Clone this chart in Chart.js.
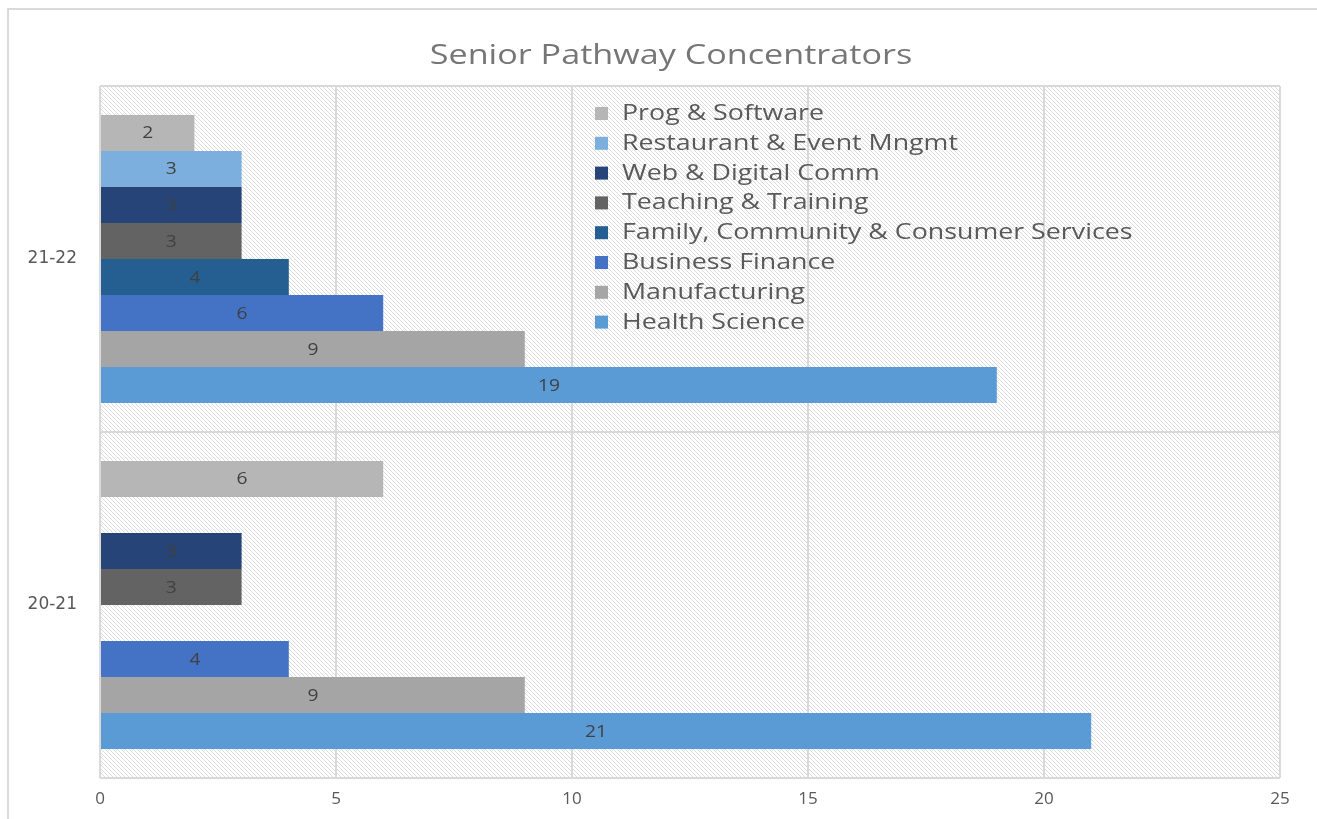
<!DOCTYPE html>
<html>
<head>
<meta charset="utf-8">
<script src="https://cdn.jsdelivr.net/npm/chart.js@4/dist/chart.umd.min.js"></script>
<style>
  html, body { margin:0; padding:0; background:#fff; }
  #wrap { position:relative; width:1317px; height:819px; }
  #frame { position:absolute; left:7px; top:8px; right:0; bottom:0; border-top:2px solid #d9d9d9; border-left:2px solid #d9d9d9; pointer-events:none; }
</style>
</head>
<body>
<div id="wrap">
  <canvas id="chart" width="1317" height="819"></canvas>
  <div id="frame"></div>
</div>
<script>
// chart data
const chartTitle = 'Senior Pathway Concentrators';
const years = ['21-22', '20-21'];
const pathways = ['Prog & Software', 'Restaurant & Event Mngmt', 'Web & Digital Comm', 'Teaching & Training',
  'Family, Community & Consumer Services', 'Business Finance', 'Manufacturing', 'Health Science'];
const progSoftware   = [2, 6];
const restaurant     = [3, null];
const webDigital     = [3, 3];
const teaching       = [3, 3];
const familyServices = [4, null];
const businessFin    = [6, 4];
const manufacturing  = [9, 9];
const healthScience  = [19, 21];
const xTicks = [0, 5, 10, 15, 20, 25];

const colors = ['#b6b6b6', '#7cafdd', '#264478', '#636363', '#255e91', '#4472c4', '#a5a5a5', '#5b9bd5'];
const series = [progSoftware, restaurant, webDigital, teaching, familyServices, businessFin, manufacturing, healthScience];

// the source picture is stretched sideways, so text gets a horizontal scale
function wideText(ctx, text, x, y, sx, align){
  ctx.save();
  ctx.translate(x, y);
  ctx.scale(sx, 1);
  ctx.textAlign = align;
  ctx.fillText(text, 0, 0);
  ctx.restore();
}

// diagonal hatch for the plot area
function hatch(){
  const c = document.createElement('canvas'); c.width = 4; c.height = 4;
  const g = c.getContext('2d');
  g.fillStyle = '#fff'; g.fillRect(0,0,4,4);
  g.strokeStyle = '#dcdcdc'; g.lineWidth = 1;
  g.beginPath();
  g.moveTo(-1,-1); g.lineTo(5,5);
  g.moveTo(-1,3); g.lineTo(1,5);
  g.moveTo(3,-1); g.lineTo(5,1);
  g.stroke();
  return c;
}

const hatchBg = {
  id:'hatchBg',
  beforeDraw(chart){
    const {ctx, chartArea:a} = chart;
    ctx.save();
    ctx.fillStyle = ctx.createPattern(hatch(), 'repeat');
    ctx.fillRect(a.left, a.top, a.right-a.left, a.bottom-a.top);
    ctx.restore();
  }
};

const barLabels = {
  id:'barLabels',
  afterDatasetsDraw(chart){
    const ctx = chart.ctx;
    ctx.save();
    ctx.font = '16px "Open Sans"';
    ctx.fillStyle = '#404040';
    ctx.textBaseline = 'middle';
    chart.data.datasets.forEach((ds, i) => {
      chart.getDatasetMeta(i).data.forEach((bar, j) => {
        const v = ds.data[j];
        if (v == null) return;
        wideText(ctx, String(v), (bar.x + bar.base)/2, bar.y + 1, 1.2, 'center');
      });
    });
    ctx.restore();
  }
};

// title and legend drawn by hand (legend sits inside the plot, top right)
const textBits = {
  id:'textBits',
  afterDraw(chart){
    const ctx = chart.ctx;
    ctx.save();
    ctx.textBaseline = 'middle';
    ctx.font = '27px "Open Sans"';
    ctx.fillStyle = '#767676';
    wideText(ctx, chartTitle, 671, 56, 1.265, 'center');

    ctx.font = '21px "Open Sans"';
    chart.data.datasets.forEach((ds, i) => {
      const y = 113 + i*29.8;
      ctx.fillStyle = ds.backgroundColor;
      ctx.fillRect(595, y-6, 13, 13);
      ctx.fillStyle = '#595959';
      wideText(ctx, ds.label, 622, y + 1, 1.275, 'left');
    });
    ctx.restore();
  }
};

new Chart(document.getElementById('chart').getContext('2d'), {
  type:'bar',
  data:{
    labels: years,
    datasets: pathways.map((p, i) => ({
      label: p, data: series[i], backgroundColor: colors[i],
      barPercentage: 1, categoryPercentage: 0.833
    }))
  },
  options:{
    indexAxis:'y',
    responsive:false,
    animation:false,
    layout:{ padding:{ left:0, right:37, top:86, bottom:0 } },
    plugins:{
      legend:{ display:false },
      tooltip:{ enabled:false },
      title:{ display:false }
    },
    scales:{
      x:{
        min:0, max:25,
        afterBuildTicks: s => { s.ticks = xTicks.map(v => ({value:v})); },
        grid:{ color:'#d9d9d9', lineWidth:2, drawTicks:false },
        border:{ display:false },
        ticks:{ color:'#595959', font:{ family:'"Open Sans"', size:17 }, padding:11 },
        afterFit: s => { s.height = 41; }
      },
      y:{
        grid:{ color:'#d9d9d9', lineWidth:2, drawTicks:false, offset:true },
        border:{ display:false },
        ticks:{ color:'#595959', font:{ family:'"DejaVu Sans"', size:17 }, padding:23 },
        afterFit: s => { s.width = 100; }
      }
    }
  },
  plugins:[hatchBg, barLabels, textBits]
});
</script>
</body>
</html>
